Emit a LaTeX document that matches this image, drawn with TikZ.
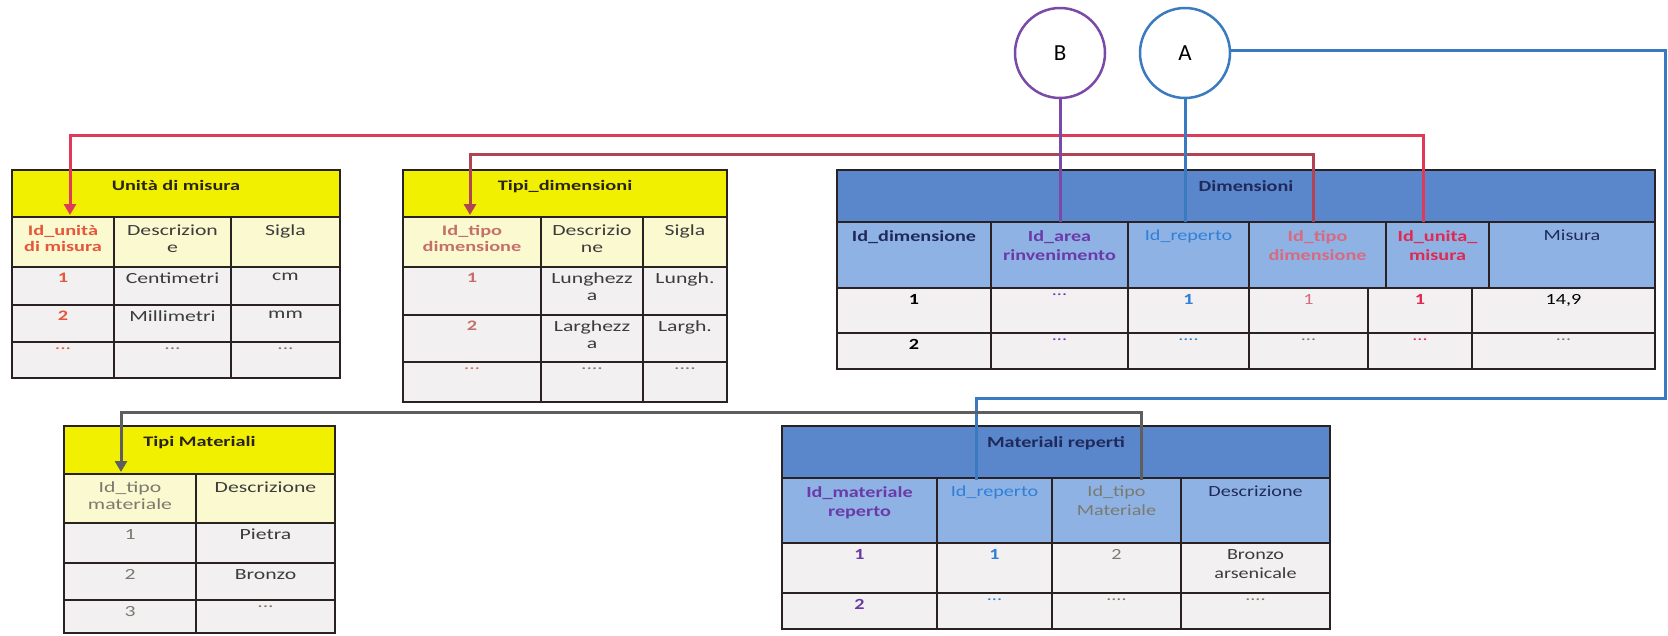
\documentclass[tikz,border=0pt]{standalone}
\usepackage{fontspec}
\setmainfont{Carlito}[FakeStretch=1.3]
\newfontfamily\yfont{Carlito}[FakeStretch=1.4]
\newfontfamily\cfont{Carlito}
\usetikzlibrary{arrows.meta,calc}
\definecolor{bordc}{HTML}{2A2222}
\definecolor{yelH}{HTML}{F0F000}
\definecolor{yelL}{HTML}{FBF9D0}
\definecolor{datG}{HTML}{F2F0F0}
\definecolor{bluH}{HTML}{5A86CC}
\definecolor{bluL}{HTML}{8FB2E4}
\definecolor{tDark}{HTML}{2A2418}
\definecolor{tGray}{HTML}{3C3C3C}
\definecolor{uidRed}{HTML}{E4573A}
\definecolor{tdRed}{HTML}{C4706A}
\definecolor{navy}{HTML}{1F2A5A}
\definecolor{purp}{HTML}{6A3AA8}
\definecolor{repBlue}{HTML}{2F7FD8}
\definecolor{tipoPink}{HTML}{D86A80}
\definecolor{unRed}{HTML}{E02850}
\definecolor{matGray}{HTML}{7A7A70}
\definecolor{lineA}{HTML}{E03A5A}
\definecolor{lineB}{HTML}{B04454}
\definecolor{lineP}{HTML}{7A4AA8}
\definecolor{lineBl}{HTML}{3A7AC0}
\definecolor{lineG}{HTML}{5E5E5E}
\tikzset{
  cellbox/.style={draw=bordc, line width=1.5pt, inner sep=0pt, outer sep=0pt, rectangle},
  ttl/.style={inner sep=0pt, align=center, anchor=north, yshift=-10pt},
  hdr/.style={inner sep=0pt, align=center, anchor=north, yshift=-8pt},
  dat/.style={inner sep=0pt, align=center, anchor=north, yshift=-6pt},
  ys/.style={font=\yfont\fontsize{15.5}{16.5}\selectfont},
  ysb/.style={font=\yfont\fontsize{14.5}{16.5}\selectfont\bfseries},
  bs/.style={font=\fontsize{15.5}{19}\selectfont},
  bsb/.style={font=\fontsize{15.5}{19}\selectfont\bfseries},
  conn/.style={line width=3pt},
  tipto/.style={-{Triangle[width=12pt,length=11pt]}},
  circ/.style={circle, draw, line width=2.5pt, fill=white, minimum size=90pt, inner sep=0pt, font=\cfont\fontsize{23}{26}\selectfont}
}
% \cell{name}{x1}{y1}{x2}{y2}{fill}{text style}{text}
\newcommand\cell[8]{%
  \node[cellbox, fill=#6, minimum width={(#4-#2)*1pt}, minimum height={(#5-#3)*1pt}, anchor=north west] (#1) at (#2,#3) {};
  \node[#7] at (#1.north) {#8};}
\begin{document}
\begin{tikzpicture}[x=1pt,y=-1pt]
\useasboundingbox[fill=white] (0,0) rectangle (1668,635);

% ---------- Unita di misura ----------
\cell{uT}{12}{170}{340}{217}{yelH}{ttl,ysb,text=tDark}{Unità di misura}
\cell{uId}{12}{217}{114}{267}{yelL}{hdr,ysb,text=uidRed}{Id\_unità\\di misura}
\cell{uDe}{114}{217}{231}{267}{yelL}{hdr,ys,text=tGray}{Descrizion\\e}
\cell{uSi}{231}{217}{340}{267}{yelL}{hdr,ys,text=tGray}{Sigla}
\cell{u11}{12}{267}{114}{305}{datG}{dat,ysb,text=uidRed}{1}
\cell{u12}{114}{267}{231}{305}{datG}{dat,ys,text=tGray}{Centimetri}
\cell{u13}{231}{267}{340}{305}{datG}{dat,ys,text=tGray}{cm}
\cell{u21}{12}{305}{114}{342}{datG}{dat,ysb,text=uidRed}{2}
\cell{u22}{114}{305}{231}{342}{datG}{dat,ys,text=tGray}{Millimetri}
\cell{u23}{231}{305}{340}{342}{datG}{dat,ys,text=tGray}{mm}
\cell{u31}{12}{342}{114}{378}{datG}{dat,ys,text=uidRed}{...}
\cell{u32}{114}{342}{231}{378}{datG}{dat,ys,text=matGray}{...}
\cell{u33}{231}{342}{340}{378}{datG}{dat,ys,text=matGray}{...}

% ---------- Tipi_dimensioni ----------
\cell{tT}{403}{170}{727}{217}{yelH}{ttl,ysb,text=tDark}{Tipi\_dimensioni}
\cell{tId}{403}{217}{541}{267}{yelL}{hdr,ysb,text=tdRed}{Id\_tipo\\dimensione}
\cell{tDe}{541}{217}{643}{267}{yelL}{hdr,ys,text=tGray}{Descrizio\\ne}
\cell{tSi}{643}{217}{727}{267}{yelL}{hdr,ys,text=tGray}{Sigla}
\cell{t11}{403}{267}{541}{315}{datG}{dat,ysb,text=tdRed}{1}
\cell{t12}{541}{267}{643}{315}{datG}{dat,ys,text=tGray}{Lunghezz\\a}
\cell{t13}{643}{267}{727}{315}{datG}{dat,ys,text=tGray}{Lungh.}
\cell{t21}{403}{315}{541}{362}{datG}{dat,ysb,text=tdRed}{2}
\cell{t22}{541}{315}{643}{362}{datG}{dat,ys,text=tGray}{Larghezz\\a}
\cell{t23}{643}{315}{727}{362}{datG}{dat,ys,text=tGray}{Largh.}
\cell{t31}{403}{362}{541}{402}{datG}{dat,ys,text=tdRed}{...}
\cell{t32}{541}{362}{643}{402}{datG}{dat,ys,text=matGray}{....}
\cell{t33}{643}{362}{727}{402}{datG}{dat,ys,text=matGray}{....}

% ---------- Dimensioni ----------
\cell{dT}{837}{170}{1655}{222}{bluH}{ttl,bsb,text=navy}{Dimensioni}
\cell{dId}{837}{222}{991}{288}{bluL}{hdr,bsb,text=navy}{Id\_dimensione}
\cell{dAr}{991}{222}{1128}{288}{bluL}{hdr,bsb,text=purp}{Id\_area\\rinvenimento}
\cell{dRe}{1128}{222}{1249}{288}{bluL}{hdr,bs,text=repBlue}{Id\_reperto}
\cell{dTi}{1249}{222}{1386}{288}{bluL}{hdr,bsb,text=tipoPink}{Id\_tipo\\dimensione}
\cell{dUn}{1386}{222}{1489}{288}{bluL}{hdr,bsb,text=unRed}{Id\_unita\_\\misura}
\cell{dMi}{1489}{222}{1655}{288}{bluL}{hdr,bs,text=navy}{Misura}
\cell{d11}{837}{288}{991}{333}{datG}{dat,bsb,text=black}{1}
\cell{d12}{991}{288}{1128}{333}{datG}{dat,bs,text=purp}{...}
\cell{d13}{1128}{288}{1249}{333}{datG}{dat,bsb,text=repBlue}{1}
\cell{d14}{1249}{288}{1368}{333}{datG}{dat,bs,text=tipoPink}{1}
\cell{d15}{1368}{288}{1472}{333}{datG}{dat,bsb,text=unRed}{1}
\cell{d16}{1472}{288}{1655}{333}{datG}{dat,bs,text=black}{14,9}
\cell{d21}{837}{333}{991}{369}{datG}{dat,bsb,text=black}{2}
\cell{d22}{991}{333}{1128}{369}{datG}{dat,bs,text=purp}{...}
\cell{d23}{1128}{333}{1249}{369}{datG}{dat,bs,text=repBlue}{....}
\cell{d24}{1249}{333}{1368}{369}{datG}{dat,bs,text=matGray}{...}
\cell{d25}{1368}{333}{1472}{369}{datG}{dat,bs,text=unRed}{...}
\cell{d26}{1472}{333}{1655}{369}{datG}{dat,bs,text=matGray}{...}

% ---------- Tipi Materiali ----------
\cell{mT}{64}{426}{335}{474}{yelH}{ttl,ysb,text=tDark}{Tipi Materiali}
\cell{mId}{64}{474}{196}{523}{yelL}{hdr,ys,text=matGray}{Id\_tipo\\materiale}
\cell{mDe}{196}{474}{335}{523}{yelL}{hdr,ys,text=tGray}{Descrizione}
\cell{m11}{64}{523}{196}{563}{datG}{dat,ys,text=matGray}{1}
\cell{m12}{196}{523}{335}{563}{datG}{dat,ys,text=tGray}{Pietra}
\cell{m21}{64}{563}{196}{600}{datG}{dat,ys,text=matGray}{2}
\cell{m22}{196}{563}{335}{600}{datG}{dat,ys,text=tGray}{Bronzo}
\cell{m31}{64}{600}{196}{633}{datG}{dat,ys,text=matGray}{3}
\cell{m32}{196}{600}{335}{633}{datG}{dat,ys,text=matGray}{...}

% ---------- Materiali reperti ----------
\cell{rT}{782}{426}{1330}{478}{bluH}{ttl,bsb,text=navy}{Materiali reperti}
\cell{rId}{782}{478}{937}{543}{bluL}{hdr,bsb,text=purp}{Id\_materiale\\reperto}
\cell{rRe}{937}{478}{1052}{543}{bluL}{hdr,bs,text=repBlue}{Id\_reperto}
\cell{rTi}{1052}{478}{1181}{543}{bluL}{hdr,bs,text=matGray}{Id\_tipo\\Materiale}
\cell{rDe}{1181}{478}{1330}{543}{bluL}{hdr,bs,text=navy}{Descrizione}
\cell{r11}{782}{543}{937}{593}{datG}{dat,bsb,text=purp}{1}
\cell{r12}{937}{543}{1052}{593}{datG}{dat,bsb,text=repBlue}{1}
\cell{r13}{1052}{543}{1181}{593}{datG}{dat,bs,text=matGray}{2}
\cell{r14}{1181}{543}{1330}{593}{datG}{dat,bs,text=tGray}{Bronzo\\arsenicale}
\cell{r21}{782}{593}{937}{629}{datG}{dat,bsb,text=purp}{2}
\cell{r22}{937}{593}{1052}{629}{datG}{dat,bs,text=repBlue}{...}
\cell{r23}{1052}{593}{1181}{629}{datG}{dat,bs,text=matGray}{....}
\cell{r24}{1181}{593}{1330}{629}{datG}{dat,bs,text=matGray}{....}

% ---------- circles ----------
\node[circ, draw=lineP] (B) at (1060,53) {B};
\node[circ, draw=lineBl] (A) at (1185,53) {A};
\coordinate (aRight) at (1665,50);

% ---------- connectors ----------
\draw[conn, color=lineA, tipto]
  ([xshift=-14pt]dUn.north) |- ([xshift=7pt, yshift=82pt]uId.north) -- ([xshift=7pt, yshift=2pt]uId.north);
\draw[conn, color=lineB, tipto]
  ([xshift=-4pt]dTi.north) |- ([xshift=-2pt, yshift=63pt]tId.north) -- ([xshift=-2pt, yshift=2pt]tId.north);
\draw[conn, color=lineP] (B.south) -- (B.south |- dAr.north);
\draw[conn, color=lineBl] (A.south) -- (A.south |- dRe.north);
\draw[conn, color=lineBl] (A.east |- aRight) -- (aRight) |- ([xshift=-18pt, yshift=80pt]rRe.north) -- ([xshift=-18pt, yshift=-2pt]rRe.north);
\draw[conn, color=lineG, tipto]
  ([xshift=25pt, yshift=-2pt]rTi.north) |- ([xshift=-9pt, yshift=62pt]mId.north) -- ([xshift=-9pt, yshift=2pt]mId.north);
\end{tikzpicture}
\end{document}
